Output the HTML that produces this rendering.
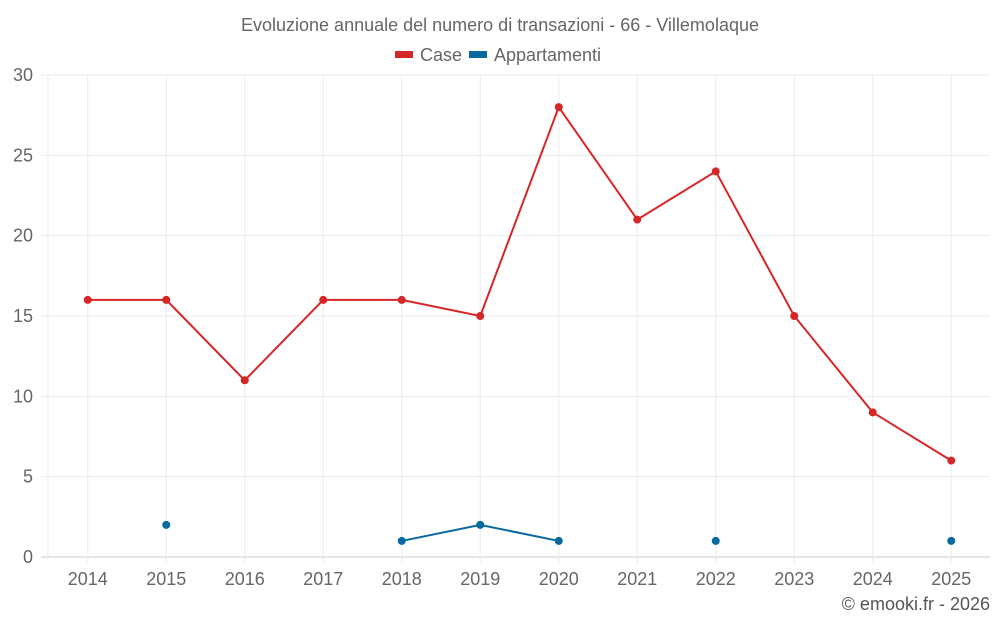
<!DOCTYPE html>
<html><head><meta charset="utf-8"><style>
body{margin:0;background:#fff;font-family:"Liberation Sans",sans-serif;}
svg text{font-family:"Liberation Sans",sans-serif;}
</style></head><body>
<svg id="c" width="1000" height="625">
<text x="500" y="31" text-anchor="middle" font-size="18" fill="#666">Evoluzione annuale del numero di transazioni - 66 - Villemolaque</text>
<g><rect x="395" y="51" width="18" height="7" fill="#d62728"/><text x="420" y="61" font-size="18" fill="#666">Case</text></g>
<g><rect x="469" y="51" width="18" height="7" fill="#0868a0"/><text x="494" y="61" font-size="18" fill="#666">Appartamenti</text></g>
<text x="990" y="610" text-anchor="end" font-size="18" fill="#555">© emooki.fr - 2026</text>
<g id="grid"></g><g id="marks"></g>
</svg>
<script>
const categories=["2014","2015","2016","2017","2018","2019","2020","2021","2022","2023","2024","2025"];
const caseValues=[16,16,11,16,16,15,28,21,24,15,9,6];
const appValues=[null,2,null,null,1,2,1,null,1,null,null,1];
const yTicks=[0,5,10,15,20,25,30];
const NS="http://www.w3.org/2000/svg";
const L=48,R=990,T=75,B=557,yMax=30;
const step=(R-L)/categories.length;
const x=i=>L+step*(i+0.5)+0.5;
const y=v=>B-(v/yMax)*(B-T);
function el(t,a,p){const e=document.createElementNS(NS,t);for(const k in a)e.setAttribute(k,a[k]);p.appendChild(e);return e;}
const g=document.getElementById('grid'),m=document.getElementById('marks');
yTicks.forEach(t=>{
 const ln=el('line',{x1:41,x2:R,y1:y(t),y2:y(t),stroke:t===0?'#ccc':'#ebebeb','stroke-width':1},g);
 
 
 const tx=el('text',{x:33,y:y(t)+6,'text-anchor':'end','font-size':18,fill:'#666'},g);
 tx.textContent=t;
 
 
});
const lv=el('line',{x1:L,x2:L,y1:T,y2:B,stroke:'#ebebeb'},g);


categories.forEach((c,i)=>{
 const ln=el('line',{x1:x(i),x2:x(i),y1:T,y2:B+6,stroke:'#ebebeb'},g);
 
 
 const tx=el('text',{x:x(i),y:585,'text-anchor':'middle','font-size':18,fill:'#666'},g);
 tx.textContent=c;
 
 
});
function series(vals,color,name){
 let seg=[];
 const flush=()=>{if(seg.length>1){const p=el('polyline',{points:seg.join(' '),fill:'none',stroke:color,'stroke-width':2},m);}seg=[];};
 vals.forEach((v,i)=>{if(v==null){flush();return;}seg.push(x(i)+','+y(v));});
 flush();
 vals.forEach((v,i)=>{if(v==null)return;
  const d=el('circle',{cx:x(i),cy:y(v),r:4,fill:color},m);
  
  });
}
series(caseValues,'#d62728','case');
series(appValues,'#0868a0','appartamenti');
</script>
</body></html>
